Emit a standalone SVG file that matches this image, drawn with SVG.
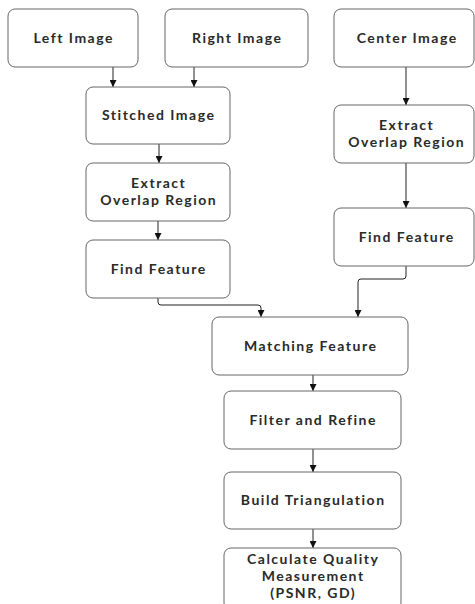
<svg xmlns="http://www.w3.org/2000/svg" width="475" height="604" viewBox="0 0 475 604">
<defs>
<marker id="ah" viewBox="0 0 8 8" refX="8" refY="4" markerWidth="7" markerHeight="7" markerUnits="userSpaceOnUse" orient="auto">
<path d="M0,0 L8,4 L0,8 z" fill="#111"/>
</marker>
<style>
.box{fill:#fff;stroke:#666;stroke-width:1}
.t{font-family:Lato,"Open Sans",sans-serif;font-size:14px;font-weight:700;letter-spacing:1.5px;fill:#2a2a2a;text-anchor:middle}
.c{fill:none;stroke:#222;stroke-width:1;marker-end:url(#ah)}
</style>
</defs>
<rect width="475" height="604" fill="#fff"/>
<g id="connectors">
<path class="c" d="M113,67 V87"/>
<path class="c" d="M194,67 V87"/>
<path class="c" d="M159,144 V163"/>
<path class="c" d="M158,221 V240"/>
<path class="c" d="M406,67 V105"/>
<path class="c" d="M406,163 V208"/>
<path class="c" d="M158,298 V302 Q158,305 161,305 H258 Q261,305 261,308 V317"/>
<path class="c" d="M406,266 V276 Q406,279 403,279 H361 Q358,279 358,282 V317"/>
<path class="c" d="M313,375 V391"/>
<path class="c" d="M313,449 V472"/>
<path class="c" d="M313,529 V548"/>
</g>
<g id="left-image"><rect class="box" x="8" y="9" width="130" height="58" rx="7"/><text class="t" x="73.7" y="43">Left Image</text></g>
<g id="right-image"><rect class="box" x="165" y="9" width="143" height="58" rx="7"/><text class="t" x="237.2" y="43">Right Image</text></g>
<g id="center-image"><rect class="box" x="334" y="9" width="140" height="58" rx="7"/><text class="t" x="407.2" y="43">Center Image</text></g>
<g id="stitched-image"><rect class="box" x="86" y="87" width="144" height="57" rx="7"/><text class="t" x="158.7" y="120">Stitched Image</text></g>
<g id="extract-left"><rect class="box" x="86" y="163" width="144" height="58" rx="7"/><text class="t" x="158.7" y="188">Extract</text><text class="t" x="158.7" y="205">Overlap Region</text></g>
<g id="extract-right"><rect class="box" x="334" y="105" width="140" height="58" rx="7"/><text class="t" x="406.7" y="130">Extract</text><text class="t" x="406.7" y="147">Overlap Region</text></g>
<g id="find-left"><rect class="box" x="86" y="240" width="144" height="58" rx="7"/><text class="t" x="158.7" y="273.5">Find Feature</text></g>
<g id="find-right"><rect class="box" x="334" y="208" width="140" height="58" rx="7"/><text class="t" x="406.7" y="241.5">Find Feature</text></g>
<g id="matching"><rect class="box" x="212" y="317" width="196" height="58" rx="7"/><text class="t" x="310.7" y="350.5">Matching Feature</text></g>
<g id="filter"><rect class="box" x="224" y="391" width="177" height="58" rx="7"/><text class="t" x="313.2" y="424.5">Filter and Refine</text></g>
<g id="triangulation"><rect class="box" x="224" y="472" width="177" height="57" rx="7"/><text class="t" x="313.2" y="505">Build Triangulation</text></g>
<g id="quality"><rect class="box" x="224" y="548" width="177" height="62" rx="7"/><text class="t" x="313.2" y="564">Calculate Quality</text><text class="t" x="313.2" y="581">Measurement</text><text class="t" x="313.2" y="598">(PSNR, GD)</text></g>
</svg>
